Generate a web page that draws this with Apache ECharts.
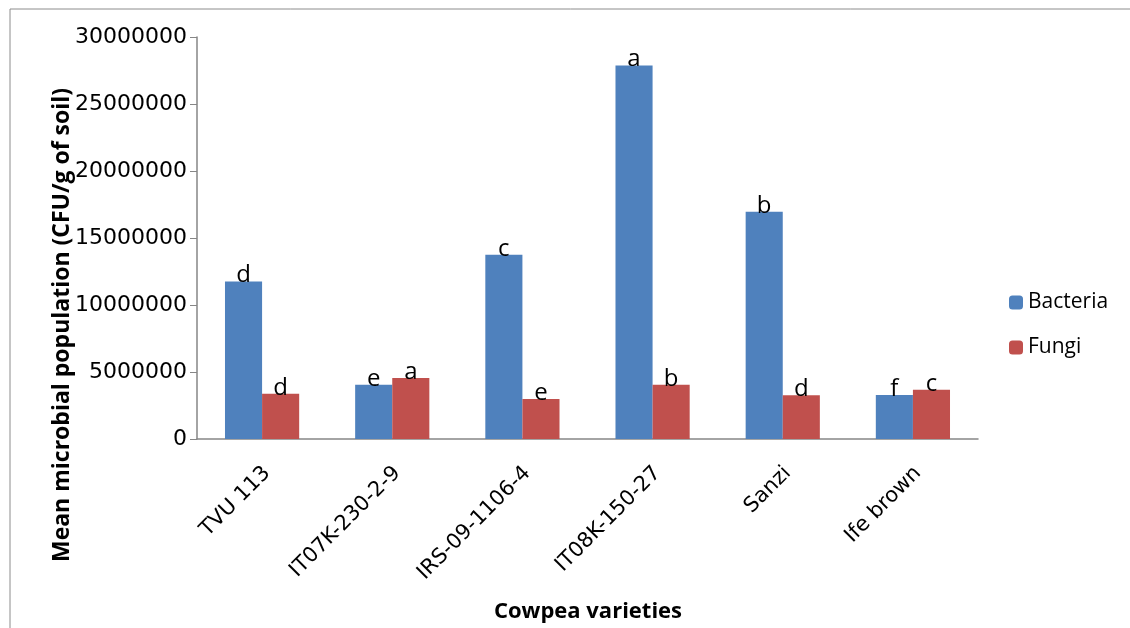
<!DOCTYPE html>
<html>
<head>
<meta charset="utf-8">
<script src="https://cdn.jsdelivr.net/npm/echarts@6/dist/echarts.min.js"></script>
<style>
  html, body { margin: 0; padding: 0; background: #fff; }
  #chart { width: 1130px; height: 628px; }
</style>
</head>
<body>
<div id="chart"></div>
<script>
// data
const varieties = ['TVU 113', 'IT07K-230-2-9', 'IRS-09-1106-4', 'IT08K-150-27', 'Sanzi', 'Ife brown'];
const bacteria = [11750000, 4050000, 13750000, 27870000, 16950000, 3280000];
const fungi = [3370000, 4550000, 2980000, 4050000, 3270000, 3680000];
const bacteriaLetters = ['d', 'e', 'c', 'a', 'b', 'f'];
const fungiLetters = ['d', 'a', 'e', 'b', 'd', 'c'];

const font = '"Open Sans", Lato, sans-serif';
const tickFont = '"DejaVu Sans", sans-serif';
const chart = echarts.init(document.getElementById('chart'));

const letterLabel = letters => ({
  show: true,
  position: 'top',
  distance: -6,
  fontSize: 24,
  fontFamily: font,
  color: '#000',
  formatter: p => letters[p.dataIndex]
});

const option = {
  animation: false,
  textStyle: { fontFamily: font },
  grid: [
    { left: 197, top: 37, right: 152, bottom: 189 },
    // copy of the plot shifted a little, only used for the slanted category labels
    { left: 202, top: 37, right: 147, bottom: 189 }
  ],
  legend: {
    orient: 'vertical',
    left: 1004,
    top: 287,
    itemWidth: 14,
    itemHeight: 14,
    itemGap: 24,
    textStyle: { fontSize: 21, color: '#000', fontFamily: font },
    data: ['Bacteria', 'Fungi']
  },
  xAxis: [
    {
      type: 'category',
      data: varieties,
      axisLine: { lineStyle: { color: '#868686', width: 1.5 } },
      axisTick: { length: 8, lineStyle: { color: '#868686' } },
      axisLabel: { show: false }
    },
    {
      type: 'category',
      gridIndex: 1,
      data: varieties,
      axisLine: { show: false },
      axisTick: { show: false },
      axisLabel: { rotate: 45, fontSize: 21, fontFamily: tickFont, color: '#000', margin: 31 }
    }
  ],
  yAxis: [
    {
      type: 'value',
      min: 0,
      max: 30000000,
      interval: 5000000,
      splitLine: { show: false },
      axisLine: { show: true, lineStyle: { color: '#868686', width: 1.5 } },
      axisTick: { show: true, length: 7, lineStyle: { color: '#868686' } },
      axisLabel: { fontSize: 22, fontFamily: tickFont, color: '#000', margin: 10, formatter: v => String(v) }
    },
    {
      type: 'value',
      gridIndex: 1,
      min: 0,
      max: 30000000,
      show: false,
      splitLine: { show: false }
    }
  ],
  series: [
    {
      name: 'Bacteria',
      type: 'bar',
      data: bacteria,
      barGap: '0%',
      barCategoryGap: '43%',
      itemStyle: { color: '#4F81BD' },
      label: letterLabel(bacteriaLetters)
    },
    {
      name: 'Fungi',
      type: 'bar',
      data: fungi,
      itemStyle: { color: '#C0504D' },
      label: letterLabel(fungiLetters)
    },
    {
      name: 'labels',
      type: 'bar',
      xAxisIndex: 1,
      yAxisIndex: 1,
      data: [],
      silent: true
    }
  ],
  graphic: [
    {
      type: 'rect',
      shape: { x: 10, y: 9, width: 1130, height: 640 },
      style: { fill: 'none', stroke: '#8c8c8c', lineWidth: 1 },
      silent: true
    },
    {
      type: 'text',
      x: 62,
      y: 325,
      rotation: Math.PI / 2,
      style: {
        text: 'Mean microbial population (CFU/g of soil)',
        font: 'bold 23px ' + font,
        fill: '#000',
        align: 'center',
        verticalAlign: 'middle'
      }
    },
    {
      type: 'text',
      x: 588,
      y: 612,
      style: {
        text: 'Cowpea varieties',
        font: 'bold 22px ' + font,
        fill: '#000',
        align: 'center',
        verticalAlign: 'middle'
      }
    }
  ]
};

chart.setOption(option);
</script>
</body>
</html>
